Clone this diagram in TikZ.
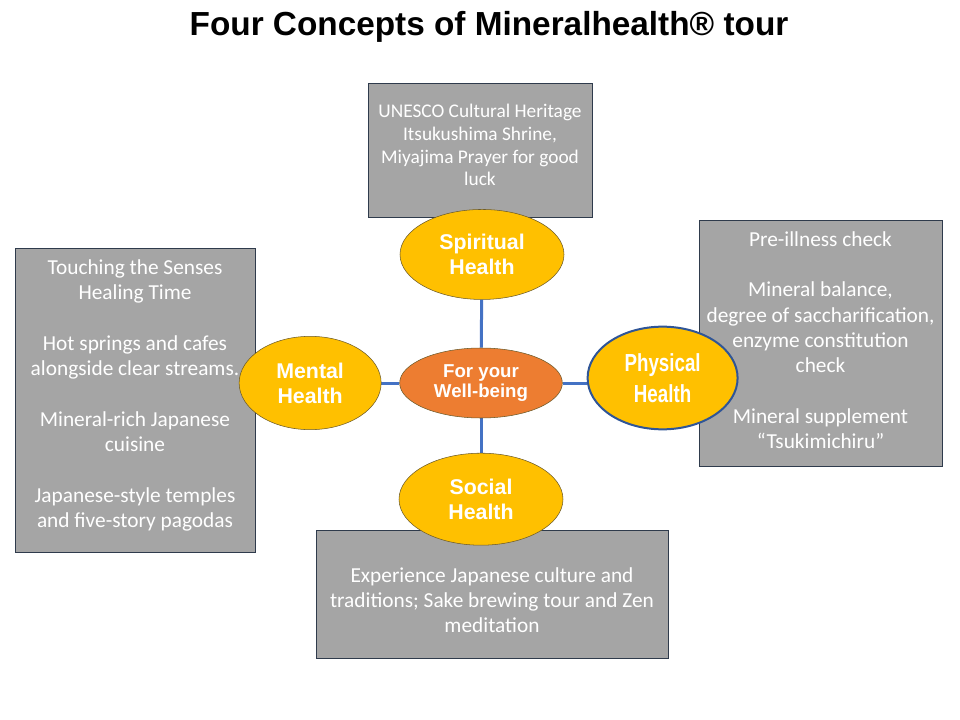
\documentclass[tikz,border=0pt]{standalone}
\usepackage{fontspec}
\setmainfont{Carlito}
\newfontfamily\headfont{Liberation Sans}
\newfontfamily\narrowfont[FakeStretch=0.76]{Liberation Sans}
\usetikzlibrary{backgrounds,positioning,shapes.geometric}
\definecolor{boxgray}{HTML}{A5A5A5}
\definecolor{boxline}{HTML}{2F3B4C}
\definecolor{concept}{HTML}{FFC000}
\definecolor{conceptline}{HTML}{6B5A2A}
\definecolor{core}{HTML}{ED7D31}
\definecolor{linkblue}{HTML}{4472C4}
\definecolor{physline}{HTML}{2F5597}
\def\figlinkwidth{2.25pt}
\def\figconceptwidth{123pt}
\def\figconceptheight{68pt}

\begin{document}
\begin{tikzpicture}[
  x=0.75pt,y=-0.75pt,
  info/.style={draw=boxline,fill=boxgray,text=white,align=center,inner sep=0pt,
    font=\fontsize{16}{19}\selectfont},
  concept/.style={ellipse,draw=conceptline,fill=concept,text=white,align=center,inner sep=0pt,
    minimum width=\figconceptwidth,minimum height=\figconceptheight,
    font=\headfont\bfseries\fontsize{16}{18.75}\selectfont},
  link/.style={draw=linkblue,line width=\figlinkwidth},
]
\useasboundingbox (0,0) rectangle (960,720);

%%%%%%%%%%%%%%%
% Title
%%%%%%%%%%%%%%%
\node (title) at (489,27) [font=\headfont\bfseries\fontsize{25}{28}\selectfont] {Four Concepts of Mineralhealth® tour};

%%%%%%%%%%%%%%%
% Info Boxes
%%%%%%%%%%%%%%%
\node (spiritbox) at (480,150) [info,minimum width=168pt,minimum height=100.5pt,text depth=7.5pt,
  font=\fontsize{14.5}{17}\selectfont] {UNESCO Cultural Heritage\\Itsukushima Shrine,\\Miyajima Prayer for good\\luck};
\node (mentalbox) at (135,400) [info,minimum width=180pt,minimum height=228pt,text depth=10pt] {%
  Touching the Senses\\Healing Time\\[19pt]
  Hot springs and cafes\\alongside clear streams.\\[19pt]
  Mineral-rich Japanese\\cuisine\\[19pt]
  Japanese-style  temples\\and five-story  pagodas};
\node (physbox) at (820.5,343) [info,minimum width=182pt,minimum height=184.5pt,text depth=4.5pt] {%
  Pre-illness  check\\[19pt]
  Mineral balance,\\degree of saccharification,\\enzyme constitution\\check\\[19pt]
  Mineral supplement\\“Tsukimichiru”};
\node (socialbox) at (492,594) [info,minimum width=264pt,minimum height=96pt,text height=58.5pt] {%
  Experience  Japanese culture and\\traditions; Sake brewing tour and Zen\\meditation};

%%%%%%%%%%%%%%%
% Concepts
%%%%%%%%%%%%%%%
\node (well) at (481,383) [concept,fill=core,minimum width=122pt,minimum height=52.5pt,
  font=\headfont\bfseries\fontsize{14}{15.5}\selectfont] {For your\\Well-being};
\node (spirit) [concept,above=36pt of well,xshift=0.75pt,minimum height=67.5pt] {Spiritual\\Health};
\node (mental) [concept,left=13.5pt of well,minimum width=106.5pt,minimum height=70pt] {Mental\\Health};
\node (phys) [
  concept,right=18pt of well,yshift=3.75pt,
  minimum width=112.5pt,minimum height=77pt,
  draw=physline,line width=1.5pt,
  font=\narrowfont\bfseries\fontsize{18.5}{23}\selectfont
] {Physical\\Health};
\node (social) [concept,below=26pt of well,minimum height=69pt] {Social\\Health};

%%%%%%%%%%%%%%%
% Links
\begin{scope}[on background layer]
\draw [link] (well) -- (spirit);
\draw [link] (well) -- (mental);
\draw [link] (well.east) -- (well.east -| phys.west);
\draw [link] (well) -- (social);
\end{scope}

\end{tikzpicture}
\end{document}
